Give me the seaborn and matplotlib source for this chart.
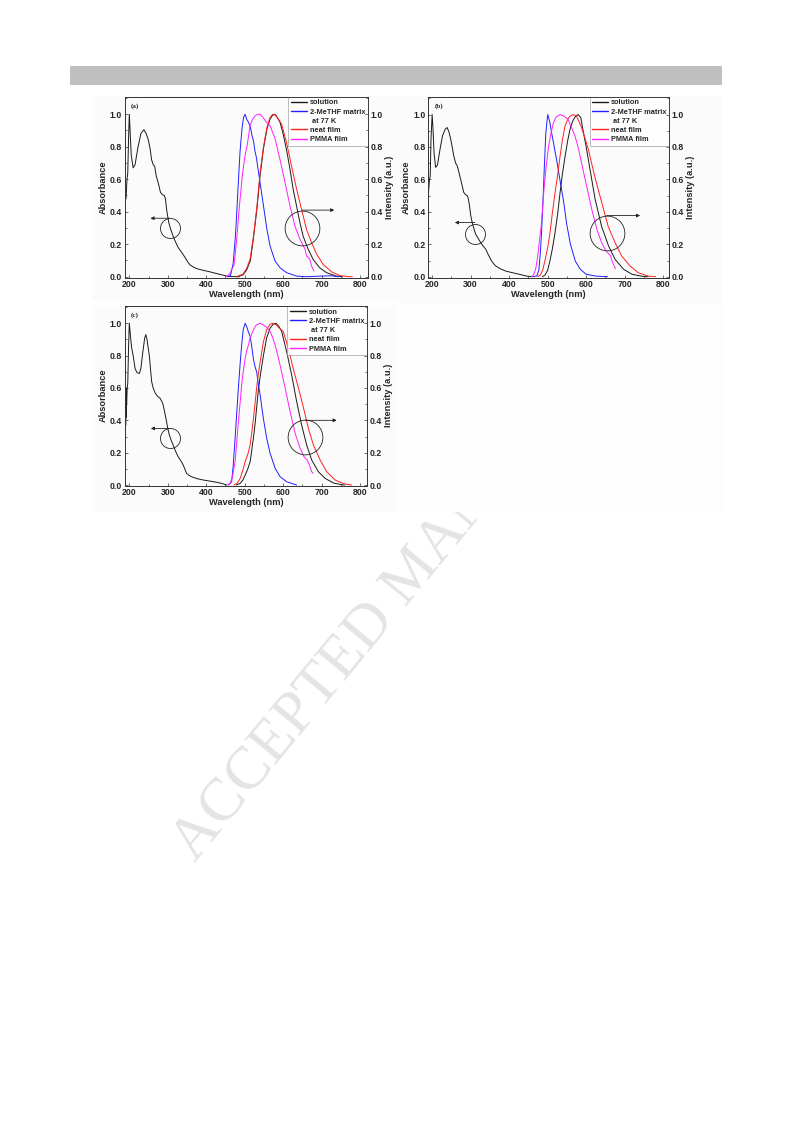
import matplotlib
matplotlib.use("Agg")
import matplotlib.pyplot as plt
import seaborn as sns
from matplotlib.patches import Rectangle
from matplotlib.lines import Line2D
from matplotlib.ticker import MultipleLocator

# ---------------- data ----------------
# panel (a)
abs_a_wl = [191.5, 194, 196, 198, 200, 202, 205, 210, 215, 222, 230, 238, 244, 249, 254, 258, 262, 266,
            270, 275, 281, 286, 291, 294, 297, 300, 303, 308, 314, 320, 327, 333, 339, 346, 352, 358,
            365, 375, 391, 410, 426, 440, 451, 465, 486]
abs_a = [0.48, 0.60, 0.64, 0.85, 1.00, 0.90, 0.75, 0.67, 0.69, 0.79, 0.88, 0.905, 0.88, 0.846, 0.79, 0.72,
         0.69, 0.68, 0.62, 0.58, 0.52, 0.505, 0.50, 0.48, 0.415, 0.37, 0.33, 0.29, 0.25, 0.215, 0.18, 0.16,
         0.14, 0.115, 0.09, 0.073, 0.062, 0.05, 0.04, 0.03, 0.02, 0.012, 0.005, 0.001, 0.0]
mthf_a_wl = [455, 463, 470, 476, 480, 484, 488, 493, 497, 501, 505, 510, 515, 519, 523, 527, 530, 535, 540,
             549, 558, 566, 579, 592, 609, 635, 660, 700, 725, 745]
mthf_a = [0.0, 0.005, 0.08, 0.25, 0.42, 0.60, 0.77, 0.91, 0.98, 1.00, 0.97, 0.95, 0.92, 0.87, 0.835, 0.77,
          0.74, 0.66, 0.58, 0.435, 0.29, 0.19, 0.097, 0.055, 0.025, 0.004, 0.0, 0.004, 0.006, 0.0]
pmma_a_wl = [452, 458, 463, 467, 472, 476, 480, 485, 489, 493, 497, 502, 506, 514, 521, 527, 534, 540, 548,
             557, 566, 579, 592, 605, 618, 631, 644, 657, 661, 665, 669, 674, 680]
pmma_a = [0.0, 0.01, 0.025, 0.05, 0.07, 0.15, 0.25, 0.40, 0.50, 0.60, 0.68, 0.76, 0.80, 0.93, 0.97, 0.99,
          1.0, 1.0, 0.98, 0.95, 0.93, 0.85, 0.72, 0.58, 0.435, 0.31, 0.23, 0.17, 0.127, 0.12, 0.11, 0.066, 0.035]
neat_a_wl = [478, 495, 505, 514, 523, 532, 540, 549, 558, 566, 573, 580, 588, 596, 609, 622, 635, 648, 661,
             674, 687, 704, 726, 747, 773, 780]
neat_a = [0.0, 0.015, 0.05, 0.107, 0.25, 0.435, 0.64, 0.80, 0.92, 0.98, 1.0, 0.995, 0.97, 0.94, 0.825, 0.68,
          0.54, 0.415, 0.29, 0.21, 0.14, 0.076, 0.03, 0.007, 0.0, 0.0]
sol_a_wl = [480, 495, 505, 515, 523, 532, 540, 549, 558, 566, 573, 579, 585, 592, 600, 609, 618, 626, 635,
            644, 652, 665, 678, 695, 713, 738, 755]
sol_a = [0.0, 0.01, 0.04, 0.10, 0.24, 0.42, 0.62, 0.79, 0.91, 0.97, 0.995, 1.0, 0.98, 0.95, 0.88, 0.78, 0.66,
         0.54, 0.435, 0.33, 0.25, 0.17, 0.107, 0.055, 0.025, 0.004, 0.0]

# panel (b)
abs_b_wl = [190, 193, 195, 197, 200, 202, 205, 209, 214, 220, 227, 234, 239, 244, 248, 252, 256, 261, 265,
            270, 274, 282, 287, 291, 294, 297, 300, 304, 308, 313, 320, 326, 332, 339, 346, 352, 358, 365,
            378, 391, 410, 426, 447, 460]
abs_b = [0.50, 0.60, 0.62, 0.85, 1.00, 0.92, 0.76, 0.674, 0.69, 0.78, 0.87, 0.91, 0.92, 0.89, 0.85, 0.80,
         0.746, 0.70, 0.685, 0.64, 0.60, 0.52, 0.505, 0.50, 0.48, 0.437, 0.38, 0.334, 0.30, 0.262, 0.235,
         0.21, 0.19, 0.17, 0.135, 0.107, 0.085, 0.066, 0.048, 0.035, 0.024, 0.015, 0.003, 0.0]
mthf_b_wl = [462, 472, 477, 481, 484, 488, 491, 495, 500, 505, 510, 517, 524, 533, 541, 549, 559, 572, 585,
             600, 625, 656]
mthf_b = [0.0, 0.005, 0.04, 0.15, 0.27, 0.48, 0.66, 0.88, 1.0, 0.96, 0.89, 0.80, 0.71, 0.58, 0.47, 0.33,
          0.20, 0.095, 0.045, 0.015, 0.004, 0.0]
pmma_b_wl = [458, 463, 469, 474, 478, 483, 487, 491, 496, 502, 508, 515, 522, 532, 542, 553, 562, 571, 580,
             589, 602, 615, 628, 640, 650, 657, 663, 668, 676]
pmma_b = [0.0, 0.01, 0.05, 0.124, 0.21, 0.31, 0.43, 0.557, 0.68, 0.80, 0.88, 0.95, 0.985, 1.0, 0.99, 0.97,
          0.92, 0.866, 0.79, 0.69, 0.55, 0.41, 0.29, 0.21, 0.165, 0.145, 0.13, 0.09, 0.05]
neat_b_wl = [474, 481, 487, 493, 500, 506, 512, 519, 526, 532, 538, 545, 552, 558, 566, 575, 588, 596, 605,
             622, 640, 657, 675, 692, 714, 735, 761, 780]
neat_b = [0.0, 0.01, 0.04, 0.10, 0.18, 0.27, 0.39, 0.515, 0.63, 0.74, 0.84, 0.93, 0.97, 0.99, 1.0, 0.99,
          0.92, 0.86, 0.79, 0.62, 0.46, 0.31, 0.21, 0.128, 0.066, 0.025, 0.004, 0.0]
sol_b_wl = [486, 493, 500, 506, 512, 519, 526, 532, 538, 545, 552, 558, 565, 571, 579, 586, 592, 600, 610,
            623, 640, 658, 675, 697, 719, 745, 760]
sol_b = [0.0, 0.01, 0.04, 0.10, 0.17, 0.27, 0.39, 0.515, 0.63, 0.74, 0.84, 0.91, 0.96, 0.985, 1.0, 0.98,
         0.90, 0.80, 0.66, 0.48, 0.31, 0.19, 0.107, 0.046, 0.015, 0.003, 0.0]

# panel (c)
abs_c_wl = [191, 191.5, 192, 192.5, 193, 194.5, 196, 198, 200, 203, 206, 210, 215, 220, 226, 230, 235, 240,
            243, 246, 249, 252, 255, 258, 262, 267, 273, 280, 285, 288, 292, 297, 300, 304, 309, 314, 320,
            327, 334, 340, 345, 349, 355, 362, 375, 392, 410, 427, 440, 453]
abs_c = [0.37, 0.55, 0.42, 0.60, 0.50, 0.60, 0.63, 0.85, 1.00, 0.92, 0.85, 0.80, 0.72, 0.695, 0.69, 0.72,
         0.82, 0.91, 0.93, 0.90, 0.85, 0.80, 0.72, 0.64, 0.60, 0.57, 0.55, 0.536, 0.515, 0.495, 0.45, 0.39,
         0.35, 0.31, 0.275, 0.247, 0.21, 0.175, 0.15, 0.124, 0.095, 0.072, 0.06, 0.051, 0.04, 0.031, 0.024,
         0.017, 0.01, 0.0]
mthf_c_wl = [458, 466, 470, 475, 479, 483.5, 488, 492, 496, 501, 505, 509, 514, 518, 522.5, 527, 531, 535,
             540, 548.5, 557, 566, 579, 592, 609, 635]
mthf_c = [0.0, 0.02, 0.12, 0.29, 0.44, 0.60, 0.75, 0.865, 0.96, 1.0, 0.98, 0.95, 0.92, 0.86, 0.78, 0.73,
          0.70, 0.63, 0.557, 0.41, 0.29, 0.196, 0.103, 0.051, 0.02, 0.0]
pmma_c_wl = [455, 462, 468, 475, 479, 483.5, 488, 492, 496, 501, 505, 509.5, 514, 522.5, 530, 540, 548, 557,
             566, 572, 579, 586, 592, 605, 618, 631, 644, 654, 662, 668, 674, 678]
pmma_c = [0.0, 0.01, 0.05, 0.144, 0.26, 0.39, 0.51, 0.62, 0.70, 0.78, 0.83, 0.865, 0.91, 0.96, 0.99, 1.0,
          0.99, 0.975, 0.95, 0.915, 0.866, 0.80, 0.74, 0.60, 0.453, 0.32, 0.227, 0.175, 0.155, 0.124, 0.082,
          0.072]
neat_c_wl = [472, 480, 488, 495, 501, 508, 514, 518, 522.5, 527, 531, 535, 540, 548.5, 557, 566, 574.5, 582,
             590, 600, 609, 618, 626, 635, 644, 653, 665.5, 678.5, 696, 713, 735, 757, 778]
neat_c = [0.0, 0.01, 0.04, 0.09, 0.144, 0.19, 0.247, 0.32, 0.41, 0.51, 0.60, 0.68, 0.76, 0.886, 0.96, 0.995,
          1.0, 0.99, 0.97, 0.95, 0.88, 0.80, 0.72, 0.64, 0.56, 0.474, 0.35, 0.247, 0.155, 0.082, 0.031,
          0.008, 0.0]
sol_c_wl = [478, 488, 495, 501, 508, 514, 518, 522.5, 527, 531, 535, 540, 548.5, 557, 566, 574, 581.5, 589,
            596, 609, 622, 635, 648, 661, 674, 691.5, 709, 731, 752, 760]
sol_c = [0.0, 0.01, 0.03, 0.06, 0.10, 0.144, 0.21, 0.29, 0.38, 0.48, 0.58, 0.67, 0.80, 0.91, 0.97, 0.995,
         1.0, 0.98, 0.95, 0.824, 0.68, 0.515, 0.37, 0.247, 0.155, 0.082, 0.041, 0.012, 0.002, 0.0]

# legend rows: the second entry's label runs over two lines
legend_rows = ["solution", "2-MeTHF matrix", " at 77 K", "neat film", "PMMA film"]
series_colors = ["#1a1a1a", "#1f1fff", "#ff2020", "#ff20ff"]
panel_letters = ["(a)", "(b)", "(c)"]

# ---------------- style ----------------
sns.set_theme(style="ticks")
plt.rcParams["font.family"] = ["Liberation Sans", "DejaVu Sans"]
plt.rcParams["font.weight"] = "bold"
plt.rcParams["axes.labelweight"] = "bold"

W, H = 793, 1123
fig = plt.figure(figsize=(W / 100, H / 100), dpi=100)


def box(l, t, r, b):
    return [l / W, 1 - b / H, (r - l) / W, (b - t) / H]


def rect(l, t, r, b, color, z):
    fig.patches.append(Rectangle((l / W, 1 - b / H), (r - l) / W, (b - t) / H,
                                 transform=fig.transFigure, facecolor=color,
                                 edgecolor="none", zorder=z))


# grey header bar, watermark and panel backgrounds
rect(70, 66, 722, 85, "#bfbfbf", 2)
fig.text(195 / W, 1 - 863 / H, "ACCEPTED MANUSCRIPT", rotation=50.5, rotation_mode="anchor",
         ha="left", va="baseline", fontsize=44, color="#e4e4e4",
         family="Liberation Serif", fontweight="normal", zorder=1)
rect(92, 96, 398, 301, "#fbfbfb", 2)
rect(398, 96, 722, 304, "#fbfbfb", 2)
rect(92, 305, 395, 512, "#fbfbfb", 2)
rect(395, 304, 722, 512, "#fdfdfd", 2)

TICK_FS = 6.3
LABEL_FS = 6.7


def draw_panel(pos, xlim, ylim, letter, absorb, emis, small_c, big_c):
    ax = fig.add_axes(box(*pos))
    ax.set_zorder(3)
    ax.patch.set_alpha(0)
    sns.lineplot(x=absorb[0], y=absorb[1], ax=ax, color=series_colors[0], lw=0.7,
                 estimator=None, legend=False)
    for (wl, val), col in zip(emis, series_colors):
        sns.lineplot(x=wl, y=val, ax=ax, color=col, lw=0.7, estimator=None, legend=False)
    ax.set_xlim(*xlim)
    ax.set_ylim(*ylim)
    ax.xaxis.set_major_locator(MultipleLocator(100))
    ax.xaxis.set_minor_locator(MultipleLocator(50))
    ax.yaxis.set_major_locator(MultipleLocator(0.2))
    ax.yaxis.set_minor_locator(MultipleLocator(0.1))
    ax.tick_params(which="both", direction="in", top=False, right=False,
                   labelsize=TICK_FS, pad=2, width=0.5, color="#333333")
    ax.tick_params(which="major", length=2.4)
    ax.tick_params(which="minor", length=1.3)
    ax.set_xlabel("Wavelength (nm)", fontsize=LABEL_FS, labelpad=0.3)
    ax.set_ylabel("Absorbance", fontsize=LABEL_FS, labelpad=1.5)

    ax2 = ax.twinx()
    ax2.set_ylim(*ylim)
    ax2.yaxis.set_major_locator(MultipleLocator(0.2))
    ax2.yaxis.set_minor_locator(MultipleLocator(0.1))
    ax2.tick_params(which="both", direction="in", labelsize=TICK_FS, pad=2, width=0.5, color="#333333")
    ax2.tick_params(which="major", length=2.4)
    ax2.tick_params(which="minor", length=1.3)
    ax2.set_ylabel("Intensity (a.u.)", fontsize=LABEL_FS, labelpad=1.5)
    for a in (ax, ax2):
        for s in a.spines.values():
            s.set_linewidth(0.6)
            s.set_color("#333333")

    ax.text(0.025, 0.965, letter, transform=ax.transAxes, ha="left", va="top",
            fontsize=5, family="Liberation Serif", fontweight="bold")

    handles = [Line2D([], [], color=series_colors[0], lw=1.0),
               Line2D([], [], color=series_colors[1], lw=1.0),
               Line2D([], [], color="none", lw=0),
               Line2D([], [], color=series_colors[2], lw=1.0),
               Line2D([], [], color=series_colors[3], lw=1.0)]
    leg = ax.legend(handles, legend_rows, loc="upper right", bbox_to_anchor=(1, 1),
                    borderaxespad=0, frameon=True, fancybox=False, fontsize=5.3,
                    handlelength=2.2, handletextpad=0.35, labelspacing=0.28,
                    borderpad=0.35)
    leg.get_frame().set_edgecolor("#8a8a8a")
    leg.get_frame().set_linewidth(0.5)
    leg.get_frame().set_facecolor("white")
    for t in leg.get_texts():
        t.set_fontweight("bold")

    # circles with arrows (absorption -> left axis, emission -> right axis)
    for (cx, cy, top, head), ms in ((small_c, 14.4), (big_c, 25)):
        ax.plot([cx], [cy], marker="o", ms=ms, mfc="none", mec="#222222", mew=0.6, zorder=5)
        ax.annotate("", xy=(head, top), xytext=(cx, top),
                    arrowprops=dict(arrowstyle="-|>", lw=0.6, color="#222222",
                                    mutation_scale=5, shrinkA=0, shrinkB=0))
    return ax


draw_panel((125, 96.7, 367.7, 277.7), (188.8, 820), (-0.006, 1.108), panel_letters[0],
           (abs_a_wl, abs_a),
           [(sol_a_wl, sol_a), (mthf_a_wl, mthf_a), (neat_a_wl, neat_a), (pmma_a_wl, pmma_a)],
           (305, 0.30, 0.36, 255), (650, 0.30, 0.41, 733))
draw_panel((428.3, 96.7, 669, 277.7), (190, 815), (-0.006, 1.11), panel_letters[1],
           (abs_b_wl, abs_b),
           [(sol_b_wl, sol_b), (mthf_b_wl, mthf_b), (neat_b_wl, neat_b), (pmma_b_wl, pmma_b)],
           (311, 0.262, 0.334, 259), (653, 0.272, 0.377, 740))
draw_panel((125, 306, 366.7, 485.5), (188.8, 817), (-0.003, 1.107), panel_letters[2],
           (abs_c_wl, abs_c),
           [(sol_c_wl, sol_c), (mthf_c_wl, mthf_c), (neat_c_wl, neat_c), (pmma_c_wl, pmma_c)],
           (306, 0.29, 0.35, 256), (657, 0.295, 0.40, 739))

fig.savefig("out.png", dpi=100)
